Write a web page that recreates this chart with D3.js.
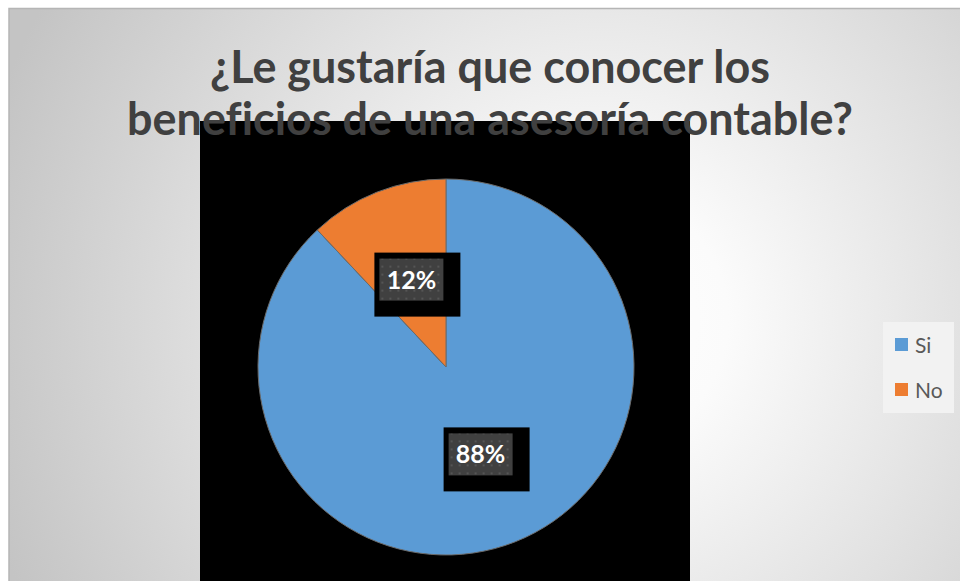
<!DOCTYPE html>
<html>
<head>
<meta charset="utf-8">
<script src="https://cdn.jsdelivr.net/npm/d3@7"></script>
<style>
  html, body { margin: 0; padding: 0; background: #fff; }
  svg { display: block; font-family: Lato, "Open Sans", sans-serif; font-variant-ligatures: none; }
</style>
</head>
<body>
<div id="chart"></div>
<script>
const categories = ["Si", "No"];
const values = [88, 12];
const colors = ["#5b9bd5", "#ed7d31"];
const titleLines = ["¿Le gustaría que conocer los", "beneficios de una asesoría contable?"];

const W = 960, H = 581;
const cx = 446, cy = 367, r = 188;

const svg = d3.select("#chart").append("svg")
    .attr("width", W)
    .attr("height", H);

const defs = svg.append("defs");
const grad = defs.append("radialGradient")
    .attr("id", "bg")
    .attr("gradientUnits", "userSpaceOnUse")
    .attr("cx", 600).attr("cy", 320).attr("r", 640);
grad.append("stop").attr("offset", 0).attr("stop-color", "#ffffff");
grad.append("stop").attr("offset", 0.2).attr("stop-color", "#fbfbfb");
grad.append("stop").attr("offset", 1).attr("stop-color", "#c4c4c4");

// dotted fill for the data label boxes
const pat = defs.append("pattern")
    .attr("id", "dots")
    .attr("patternUnits", "userSpaceOnUse")
    .attr("width", 8).attr("height", 8);
pat.append("rect").attr("width", 8).attr("height", 8).attr("fill", "#404040");
pat.append("rect").attr("x", 2).attr("y", 2).attr("width", 2).attr("height", 2).attr("fill", "#555555");

// chart area
svg.append("rect")
    .attr("x", 9).attr("y", 8.5)
    .attr("width", W).attr("height", H)
    .attr("fill", "url(#bg)")
    .attr("stroke", "#b5b5b5")
    .attr("stroke-width", 1.5);

// plot area
svg.append("rect")
    .attr("x", 200).attr("y", 121)
    .attr("width", 490).attr("height", H - 121)
    .attr("fill", "#000");

const pie = d3.pie().sort(null).value(d => d);
const arcs = pie(values);
const arc = d3.arc().innerRadius(0).outerRadius(r);

const g = svg.append("g").attr("transform", `translate(${cx},${cy})`);

g.selectAll("path")
    .data(arcs)
    .enter()
    .append("path")
    .attr("d", arc)
    .attr("fill", (d, i) => colors[i])
    .attr("stroke", "#6b6b6b")
    .attr("stroke-width", 1);

// data labels
const total = d3.sum(values);
const labels = g.selectAll(".lbl")
    .data(arcs)
    .enter()
    .append("g")
    .attr("class", "lbl")
    .attr("transform", d => {
        const c = arc.centroid(d);
        return `translate(${c[0]},${c[1]})`;
    });

labels.append("rect")
    .attr("x", -37).attr("y", -27)
    .attr("width", 86).attr("height", 64)
    .attr("fill", "#000");
labels.append("rect")
    .attr("x", -32).attr("y", -21)
    .attr("width", 64).attr("height", 42)
    .attr("fill", "url(#dots)");
labels.append("text")
    .attr("text-anchor", "middle")
    .attr("y", 9)
    .attr("fill", "#fff")
    .attr("font-weight", "bold")
    .attr("font-size", 25)
    .text(d => Math.round(d.data / total * 100) + "%");

// title
const title = svg.append("text")
    .attr("text-anchor", "middle")
    .attr("fill", "#404040")
    .attr("font-weight", "bold")
    .attr("font-size", 48);
title.selectAll("tspan")
    .data(titleLines)
    .enter()
    .append("tspan")
    .attr("x", 490)
    .attr("y", (d, i) => 83 + i * 52)
    .text(d => d);
const w2 = title.selectAll("tspan").nodes()[1].getComputedTextLength();
title.attr("font-size", 48 * 726 / w2);

// legend
const legend = svg.append("g").attr("transform", "translate(883,322)");
legend.append("rect")
    .attr("width", 71).attr("height", 91)
    .attr("fill", "#f2f2f2");
const items = legend.selectAll(".item")
    .data(categories)
    .enter()
    .append("g")
    .attr("class", "item")
    .attr("transform", (d, i) => `translate(12,${16 + i * 45})`);
items.append("rect")
    .attr("width", 13).attr("height", 13)
    .attr("fill", (d, i) => colors[i]);
items.append("text")
    .attr("x", 20).attr("y", 15)
    .attr("fill", "#595959")
    .attr("font-size", 21)
    .text(d => d);
</script>
</body>
</html>
